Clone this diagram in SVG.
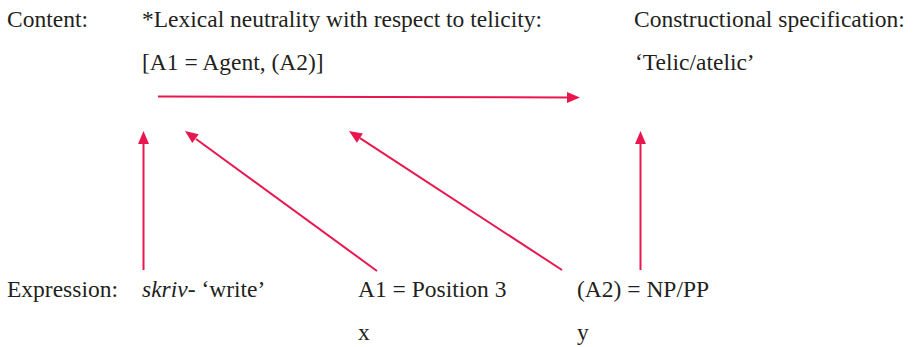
<svg xmlns="http://www.w3.org/2000/svg" width="917" height="347" viewBox="0 0 917 347">
<style>
.c line{stroke:#e8184f;stroke-width:2}
.c polygon{fill:#e8184f}
.t{font-family:"Times New Roman","Liberation Serif",serif;font-size:23.5px;fill:#231f20}
</style>
<rect width="917" height="347" fill="#fff"/>
<g id="labels">
<text class="t" x="7" y="27" font-family="Times New Roman, Liberation Serif, serif">Content:</text>
<text class="t" x="7" y="297" font-family="Times New Roman, Liberation Serif, serif">Expression:</text>
</g>
<g id="lexical">
<text class="t" x="142" y="27" font-family="Times New Roman, Liberation Serif, serif">*Lexical neutrality with respect to telicity:</text>
<text class="t" x="142" y="70" font-family="Times New Roman, Liberation Serif, serif">[A1 = Agent, (A2)]</text>
</g>
<g id="constructional">
<text class="t" x="634" y="27" font-family="Times New Roman, Liberation Serif, serif">Constructional specification:</text>
<text class="t" x="635" y="70" font-family="Times New Roman, Liberation Serif, serif">‘Telic/atelic’</text>
</g>
<g id="skriv">
<text class="t" x="142" y="297" font-family="Times New Roman, Liberation Serif, serif"><tspan font-style="italic">skriv</tspan>- ‘write’</text>
</g>
<g id="a1">
<text class="t" x="358" y="297" font-family="Times New Roman, Liberation Serif, serif">A1 = Position 3</text>
<text class="t" x="358" y="340" font-family="Times New Roman, Liberation Serif, serif">x</text>
</g>
<g id="a2">
<text class="t" x="577" y="297" font-family="Times New Roman, Liberation Serif, serif">(A2) = NP/PP</text>
<text class="t" x="577" y="340" font-family="Times New Roman, Liberation Serif, serif">y</text>
</g>
<g id="connectors" class="c">
<line x1="158" y1="96.5" x2="568" y2="97.4"/>
<polygon points="580,97.5 567,92 567,103"/>
<line x1="143.5" y1="270" x2="143.5" y2="143"/>
<polygon points="143.5,131 138,144 149,144"/>
<line x1="377" y1="271" x2="196" y2="139"/>
<polygon points="185,131 198.7,134.2 192.3,143.1"/>
<line x1="562" y1="270" x2="360" y2="138.2"/>
<polygon points="349,131 362.9,133.5 356.9,142.7"/>
<line x1="640.5" y1="270" x2="640.5" y2="143"/>
<polygon points="640.5,131 635,144 646,144"/>
</g>
</svg>
